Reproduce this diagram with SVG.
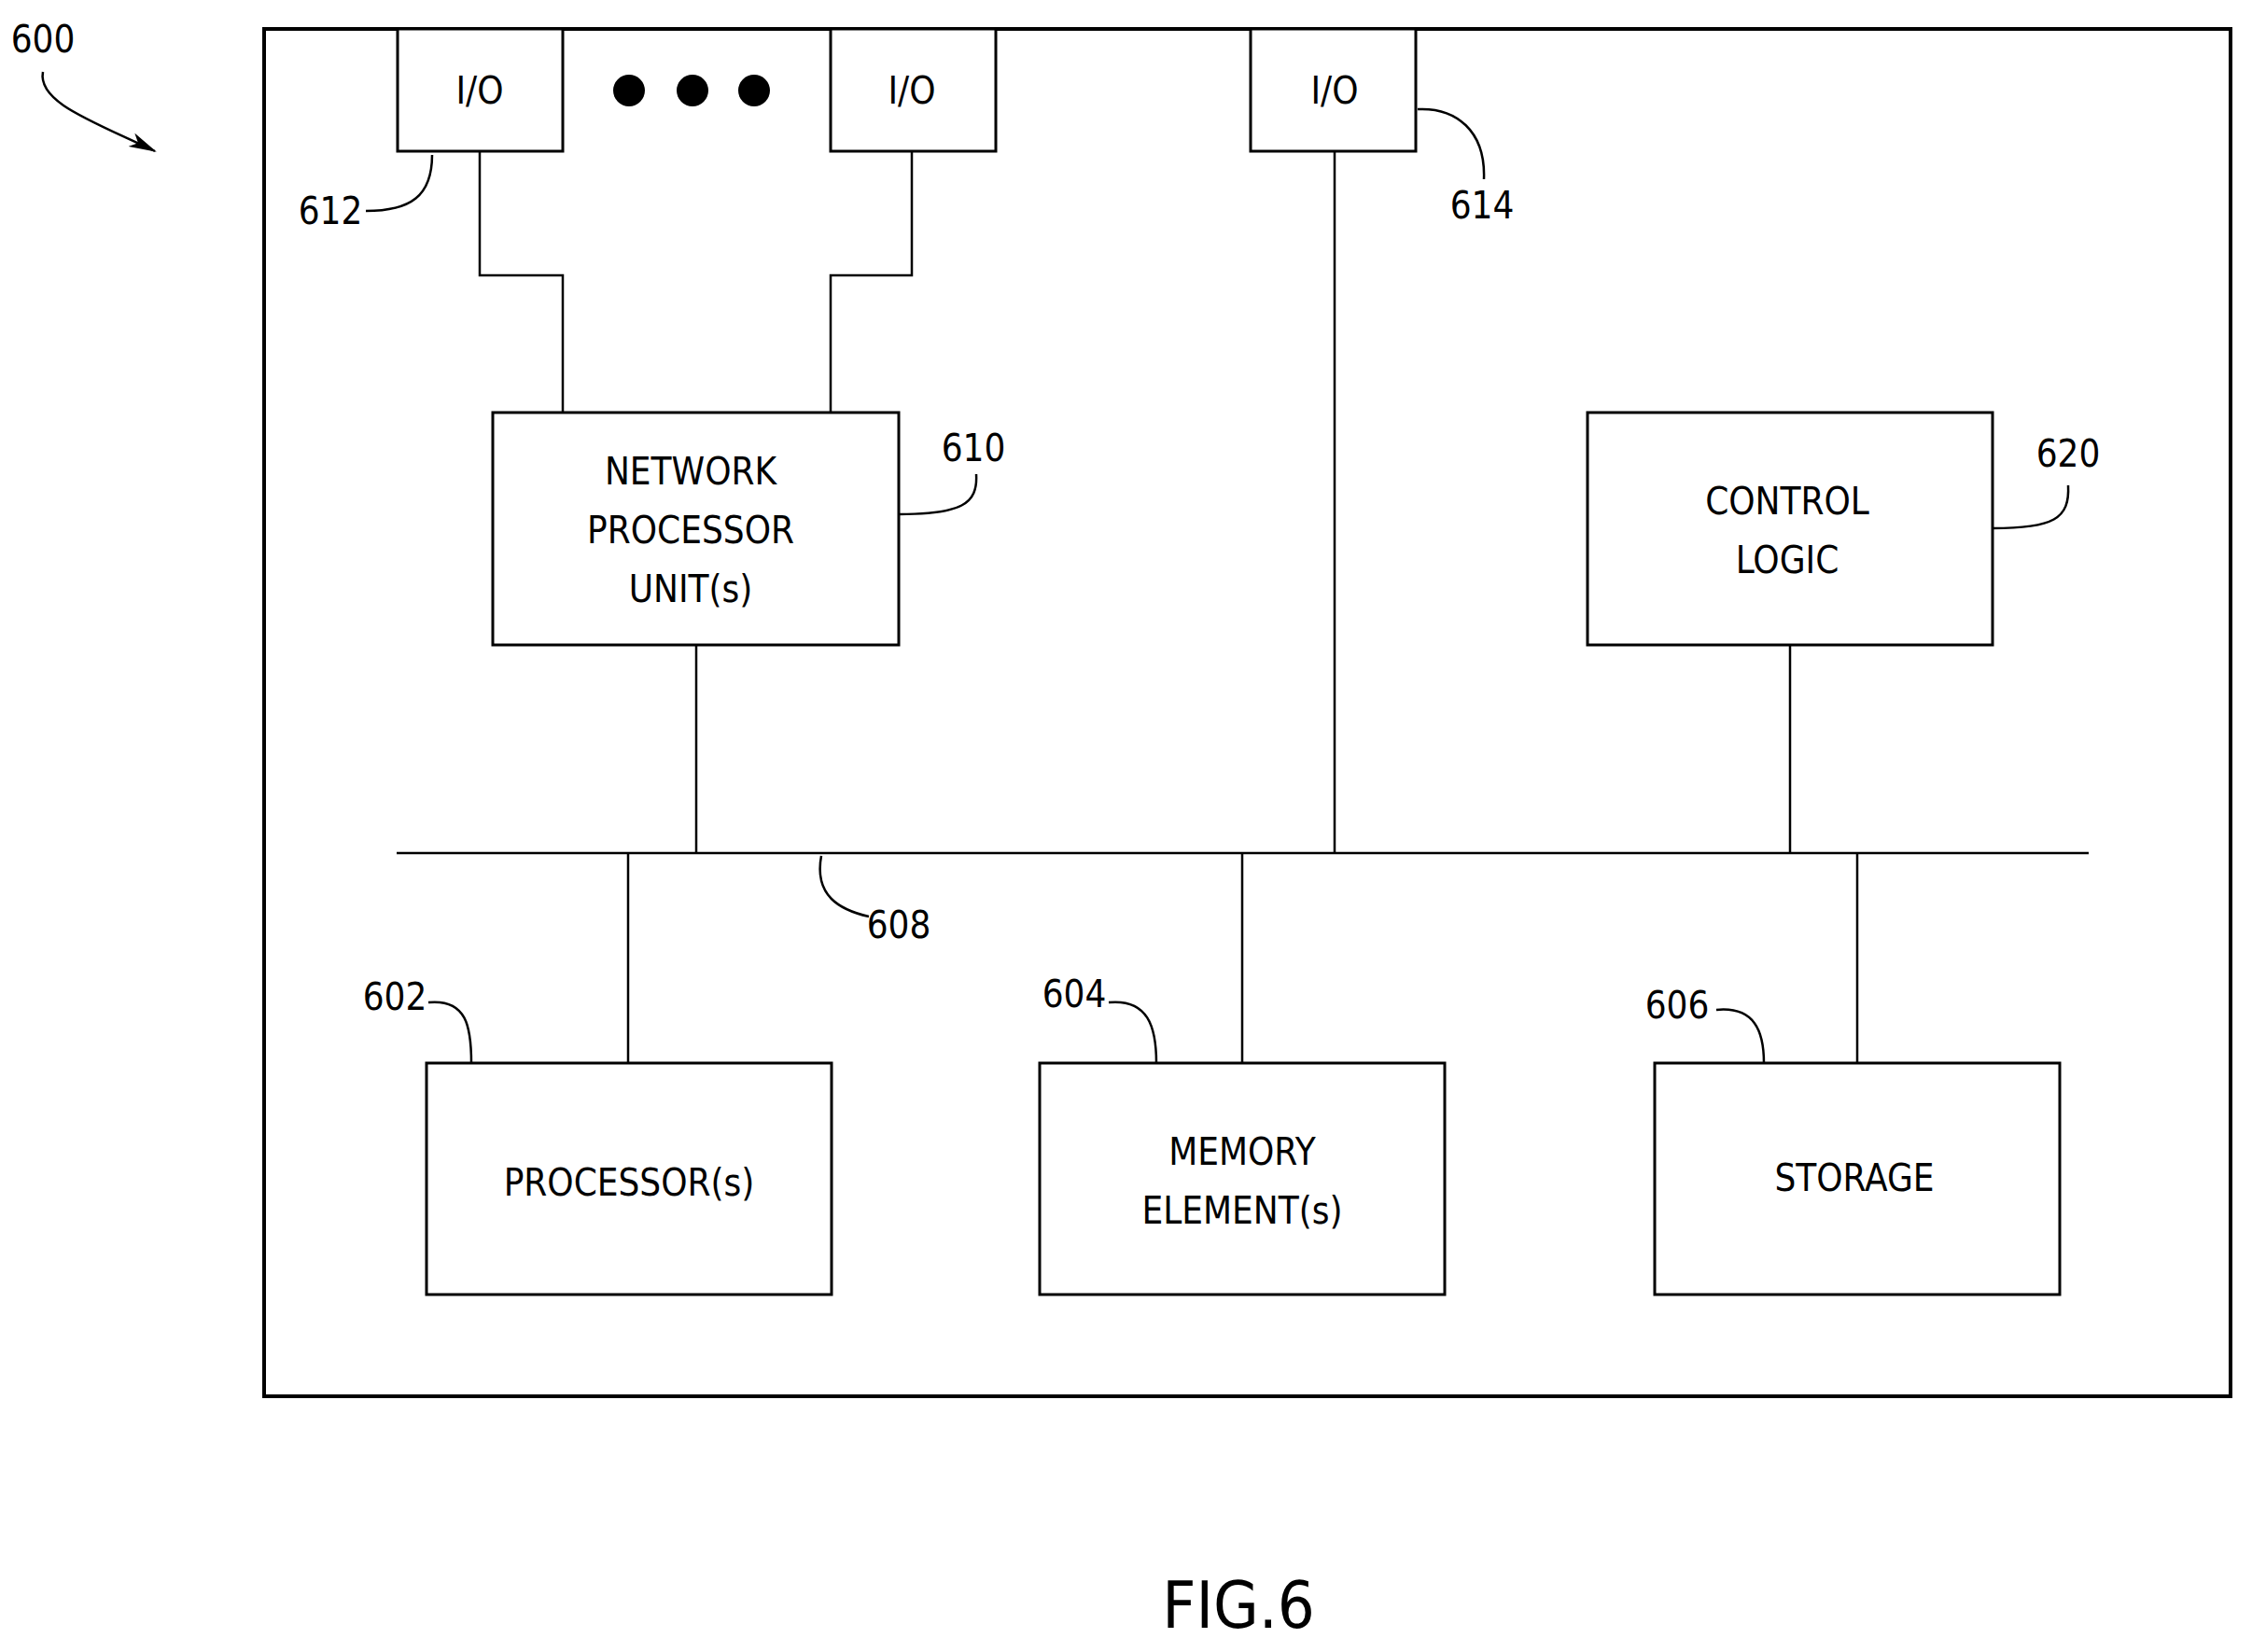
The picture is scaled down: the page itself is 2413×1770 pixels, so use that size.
<svg xmlns="http://www.w3.org/2000/svg" width="2413" height="1770" viewBox="0 0 2413 1770">
<style>
.b{fill:#fff;stroke:#000;stroke-width:3}
.l{fill:none;stroke:#000;stroke-width:2.5}
text{font-family:"DejaVu Sans Condensed","Liberation Sans",sans-serif;font-size:40px;text-anchor:middle;fill:#000}
</style>
<defs><marker id="a" markerWidth="30" markerHeight="16" refX="28" refY="8" orient="auto" markerUnits="userSpaceOnUse"><path d="M0,0 L30,8 L0,16 L8,8 Z" fill="#000"/></marker></defs>
<rect x="0" y="0" width="2413" height="1770" fill="#fff"/>
<g id="frame"><rect x="283" y="31" width="2107" height="1465" fill="none" stroke="#000" stroke-width="4"/></g>
<g id="connectors" class="l">
<path d="M514,162 V295 H603 V442"/>
<path d="M977,162 V295 H890 V442"/>
<path d="M1430,162 V914"/>
<path d="M746,691 V914"/>
<path d="M1918,691 V914"/>
<path d="M425,914 H2238"/>
<path d="M673,914 V1139 M1331,914 V1139 M1990,914 V1139"/>
<path d="M46,77 C40,110 100,130 166,162" marker-end="url(#a)"/>
<path d="M392,226 C440,226 463,210 463,166"/>
<path d="M1519,117 C1560,115 1592,140 1590,192"/>
<path d="M963,551 C1030,551 1048,540 1046,508"/>
<path d="M2135,566 C2200,566 2218,556 2216,520"/>
<path d="M880,917 C872,960 900,975 931,982"/>
<path d="M459,1074 C500,1070 505,1100 505,1139"/>
<path d="M1188,1074 C1230,1070 1239,1100 1239,1139"/>
<path d="M1839,1082 C1880,1078 1890,1105 1890,1139"/>
</g>
<g id="io1"><rect class="b" x="426" y="31" width="177" height="131"/><text x="514" y="111">I/O</text></g>
<g id="dots"><circle cx="674" cy="97" r="17"/><circle cx="742" cy="97" r="17"/><circle cx="808" cy="97" r="17"/></g>
<g id="io2"><rect class="b" x="890" y="31" width="177" height="131"/><text x="977" y="111">I/O</text></g>
<g id="io3"><rect class="b" x="1340" y="31" width="177" height="131"/><text x="1430" y="111">I/O</text></g>
<g id="npu"><rect class="b" x="528" y="442" width="435" height="249" stroke-width="5"/><text x="740" y="519">NETWORK</text><text x="740" y="582">PROCESSOR</text><text x="740" y="645">UNIT(s)</text></g>
<g id="control"><rect class="b" x="1701" y="442" width="434" height="249" stroke-width="5"/><text x="1915" y="551">CONTROL</text><text x="1915" y="614">LOGIC</text></g>
<g id="proc"><rect class="b" x="457" y="1139" width="434" height="248" stroke-width="5"/><text x="674" y="1281">PROCESSOR(s)</text></g>
<g id="mem"><rect class="b" x="1114" y="1139" width="434" height="248" stroke-width="5"/><text x="1331" y="1248">MEMORY</text><text x="1331" y="1311">ELEMENT(s)</text></g>
<g id="stor"><rect class="b" x="1773" y="1139" width="434" height="248" stroke-width="5"/><text x="1987" y="1276">STORAGE</text></g>
<g id="labels">
<text x="46" y="56">600</text><text x="354" y="240">612</text><text x="1588" y="234">614</text>
<text x="1043" y="494">610</text><text x="2216" y="500">620</text><text x="963" y="1005">608</text>
<text x="423" y="1082">602</text><text x="1151" y="1079">604</text><text x="1797" y="1091">606</text>
<text x="1327" y="1744" style="font-size:70px">FIG.6</text>
</g>
</svg>
